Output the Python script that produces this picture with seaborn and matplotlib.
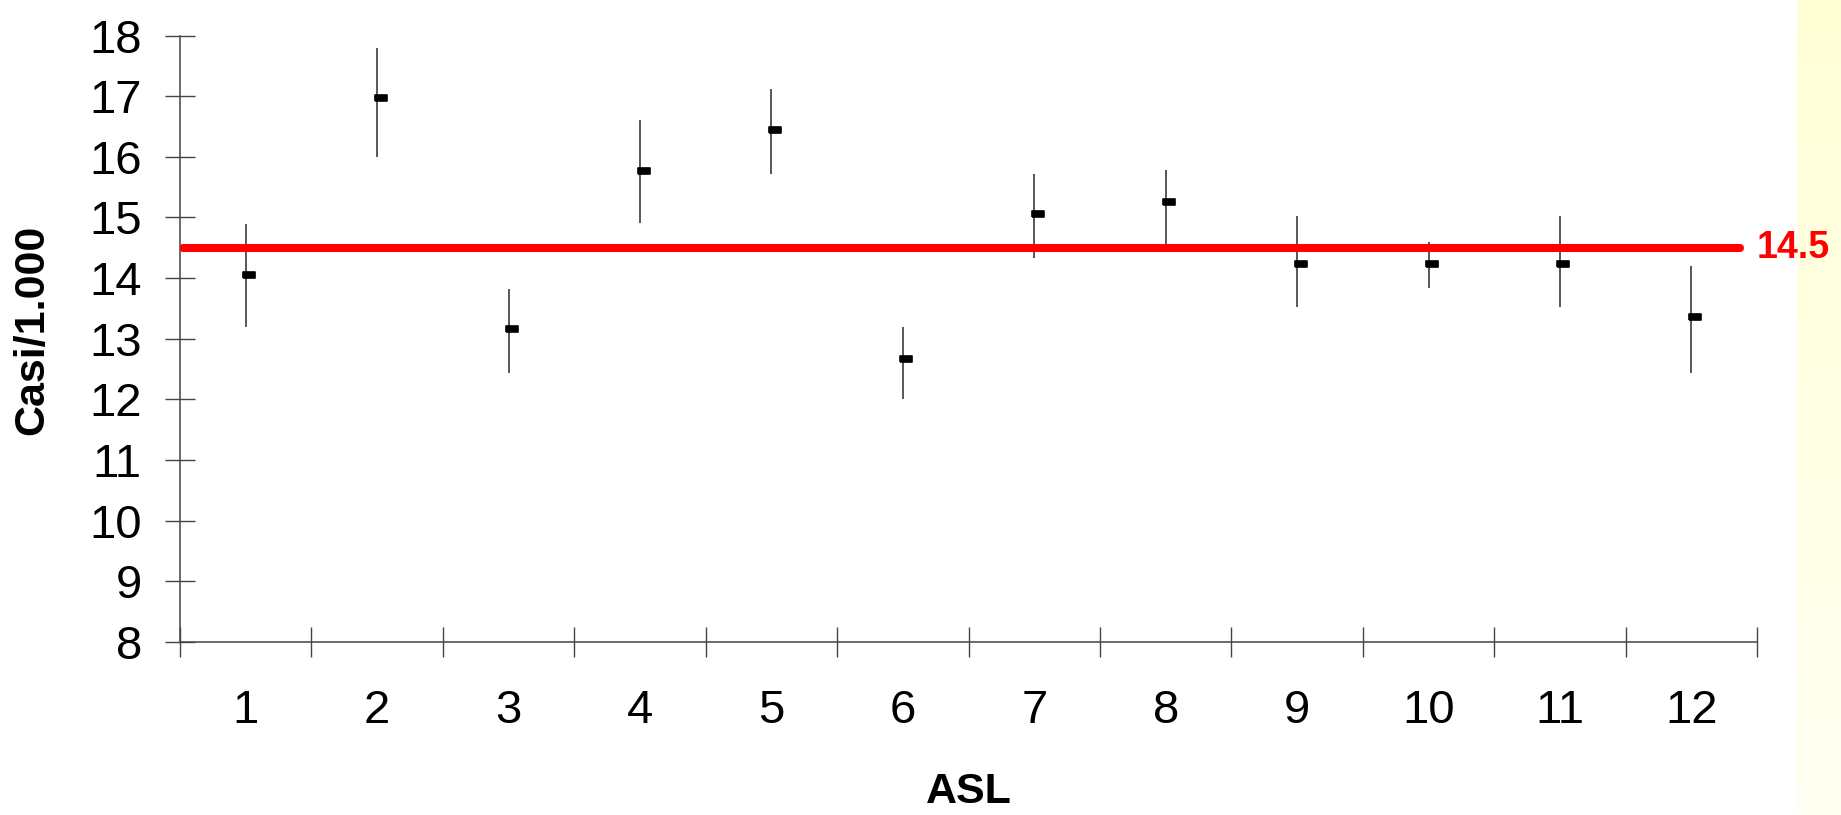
import numpy as np
import matplotlib
matplotlib.use("Agg")
import matplotlib.pyplot as plt
import matplotlib.transforms as mtransforms
import seaborn as sns

# data
asl = [1, 2, 3, 4, 5, 6, 7, 8, 9, 10, 11, 12]
casi = [14.05, 16.97, 13.16, 15.76, 16.45, 12.67, 15.06, 15.25, 14.23, 14.24, 14.24, 13.36]
casi_low = [13.20, 15.99, 12.44, 14.91, 15.72, 12.00, 14.33, 14.55, 13.52, 13.83, 13.52, 12.44]
casi_high = [14.89, 17.80, 13.82, 16.61, 17.12, 13.20, 15.72, 15.78, 15.03, 14.59, 15.03, 14.20]
reference = 14.5

sns.set_theme(style="white")
plt.rcParams['font.family'] = ['Liberation Sans', 'DejaVu Sans']
plt.rcParams['text.color'] = 'black'
plt.rcParams['axes.labelcolor'] = 'black'

fig = plt.figure(figsize=(18.41, 8.15), dpi=100)

# pale yellow strip on the right edge
band = fig.add_axes([1797 / 1841, 0, 1 - 1797 / 1841, 1])
grad = np.linspace(0, 1, 256).reshape(-1, 1)
band.imshow(grad, aspect='auto', extent=[0, 1, 0, 1],
            cmap=matplotlib.colors.LinearSegmentedColormap.from_list('y', ['#FFFFD6', '#FFFFF2']))
band.axis('off')

ax = fig.add_axes([0.0978, 0.2123, 0.8566, 0.7441])

# error bars
ax.vlines(asl, casi_low, casi_high, color='#2a2a2a', linewidth=1.1, zorder=2)

# dash markers, nudged a little to the right of the bars
dash = [(-1, -0.6), (1, -0.6), (1, 0.6), (-1, 0.6), (-1, -0.6)]
shift = mtransforms.offset_copy(ax.transData, fig=fig, x=3.5, y=0, units='dots')
sns.scatterplot(x=asl, y=casi, marker=dash, s=70, color='black', linewidth=1.2,
                edgecolor='black', ax=ax, transform=shift, zorder=3, legend=False)

# reference line and its label
ax.axhline(reference, xmin=0.002, xmax=0.989, color='#FF0000', linewidth=5.8, zorder=4)
ax.text(1.0, reference, f'{reference:g}', transform=ax.get_yaxis_transform(),
        color='#FF0000', fontsize=27, fontweight='bold', va='center', ha='left')

ax.set_xlim(0.5, 12.5)
ax.set_ylim(8, 18)
ax.set_yticks(range(8, 19))
ax.set_xticks(np.arange(0.5, 13, 1))
ax.set_xticklabels([])
ax.set_xticks(asl, minor=True)
ax.set_xticklabels([str(a) for a in asl], minor=True)

ax.tick_params(axis='y', which='major', direction='inout', length=21, width=1,
               color='#444444', labelcolor='black', labelsize=34, pad=17, left=True)
ax.tick_params(axis='x', which='major', direction='inout', length=21, width=1,
               color='#444444', bottom=True)
ax.tick_params(axis='x', which='minor', length=0, labelsize=34, labelcolor='black', pad=34)

sns.despine(ax=ax)
for s in ['left', 'bottom']:
    ax.spines[s].set_color('#444444')
    ax.spines[s].set_linewidth(1.1)

ax.set_xlabel('ASL', fontsize=31, fontweight='bold')
ax.set_ylabel('Casi/1.000', fontsize=31, fontweight='bold')
ax.xaxis.set_label_coords(0.5, -0.215)
ax.yaxis.set_label_coords(-0.081, 0.515)

fig.savefig('out.png', dpi=100)
